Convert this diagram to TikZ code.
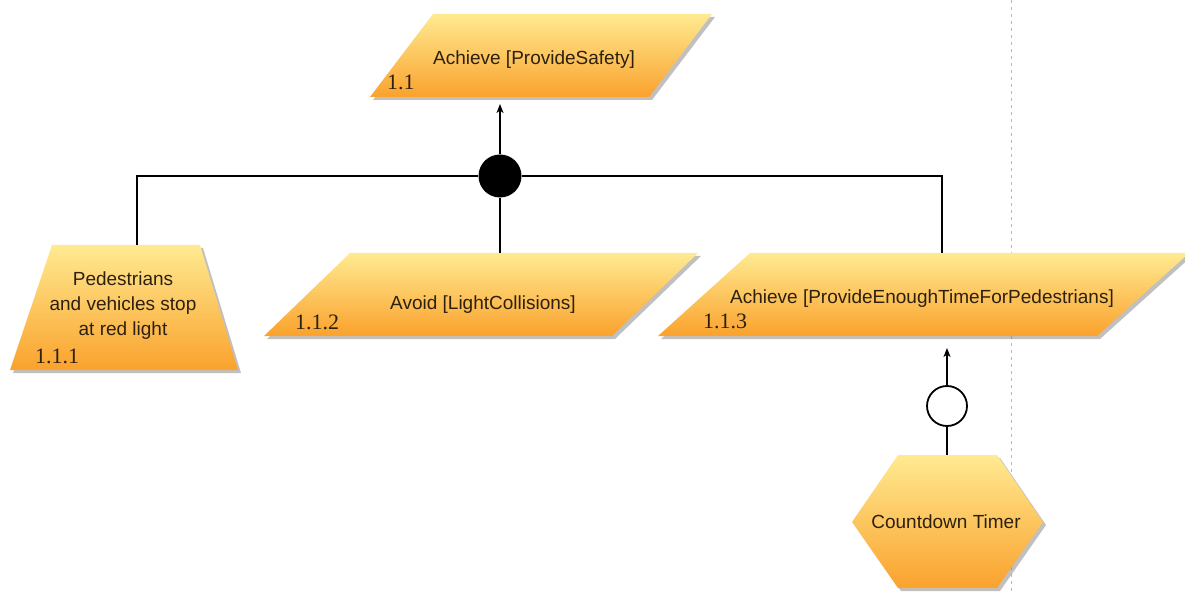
\documentclass[tikz,border=0pt]{standalone}
\usepackage{fontspec}
\setmainfont{Liberation Sans}
\newfontfamily\numfont{Liberation Serif}
\usetikzlibrary{shadows,arrows.meta}
\definecolor{gtop}{RGB}{255,234,145}
\definecolor{gbot}{RGB}{250,162,45}
\definecolor{txt}{RGB}{45,32,15}
\definecolor{dashc}{RGB}{185,185,185}
\begin{document}
\begin{tikzpicture}[x=1pt,y=-1pt,
  goal/.style={top color=gtop,bottom color=gbot,draw=none,
    drop shadow={shadow xshift=3pt,shadow yshift=-3pt,fill=black!55,opacity=0.45}},
  lbl/.style={font=\fontsize{19}{25}\selectfont,text=txt,inner sep=0pt,align=center},
  num/.style={font=\numfont\fontsize{22}{24}\selectfont,text=txt,inner sep=0pt,anchor=base west},
  conn/.style={line width=1.3pt,draw=black},
  arr/.style={conn,-{Stealth[length=9pt,width=7pt,inset=2.5pt]}},
  anddot/.style={circle,fill=black,inner sep=0pt,minimum size=43pt},
  ordot/.style={circle,draw=black,line width=1.8pt,fill=white,inner sep=0pt,minimum size=40pt},
]
\useasboundingbox (0,0) rectangle (1185,593);
\clip (0,0) rectangle (1185,593);
% separator
\draw[dashc,line width=0.9pt,dash pattern=on 3pt off 4pt] (1011,0) -- (1011,593);
% goal shapes
\path[goal] (433,14) -- (712,14) -- (649,97) -- (370,97) -- cycle;
\path[goal] (52,245) -- (200,245) -- (238,370) -- (10,370) -- cycle;
\path[goal] (350,253) -- (698,253) -- (612,336) -- (264,336) -- cycle;
\path[goal] (750,253) -- (1189,253) -- (1097,336) -- (658,336) -- cycle;
\path[goal] (898,455) -- (997,455) -- (1043,522) -- (997,588) -- (898,588) -- (852,522) -- cycle;
% texts
\node[lbl,anchor=base] (t11) at (534,65) {Achieve [ProvideSafety]};
\node[num] (n11) at (387,90) {1.1};
\node[lbl] (t111) at (123,306) {Pedestrians\\and vehicles stop\\at red light};
\node[num] (n111) at (35,363) {1.1.1};
\node[lbl,anchor=base] (t112) at (483,309) {Avoid [LightCollisions]};
\node[num] (n112) at (295,330) {1.1.2};
\node[lbl,anchor=base] (t113) at (922,304) {Achieve [ProvideEnoughTimeForPedestrians]};
\node[num] (n113) at (703,329) {1.1.3};
\node[lbl,anchor=base] (tct) at (946,528) {Countdown Timer};
% connection points
\coordinate (g11in) at (500,104);
\coordinate (g111top) at (137,245);
\coordinate (g112top) at (500,253);
\coordinate (g113top) at (942,253);
\coordinate (g113in) at (947,348);
\coordinate (timertop) at (947,455);
\node[anddot] (and) at (500,176) {};
\node[ordot] (or) at (947,406) {};
% connectors
\draw[arr] (and) -- (g11in);
\draw[conn] (g111top) |- (and) -| (g113top);
\draw[conn] (and) -- (g112top);
\draw[arr] (or) -- (g113in);
\draw[conn] (or) -- (timertop);
\end{tikzpicture}
\end{document}
